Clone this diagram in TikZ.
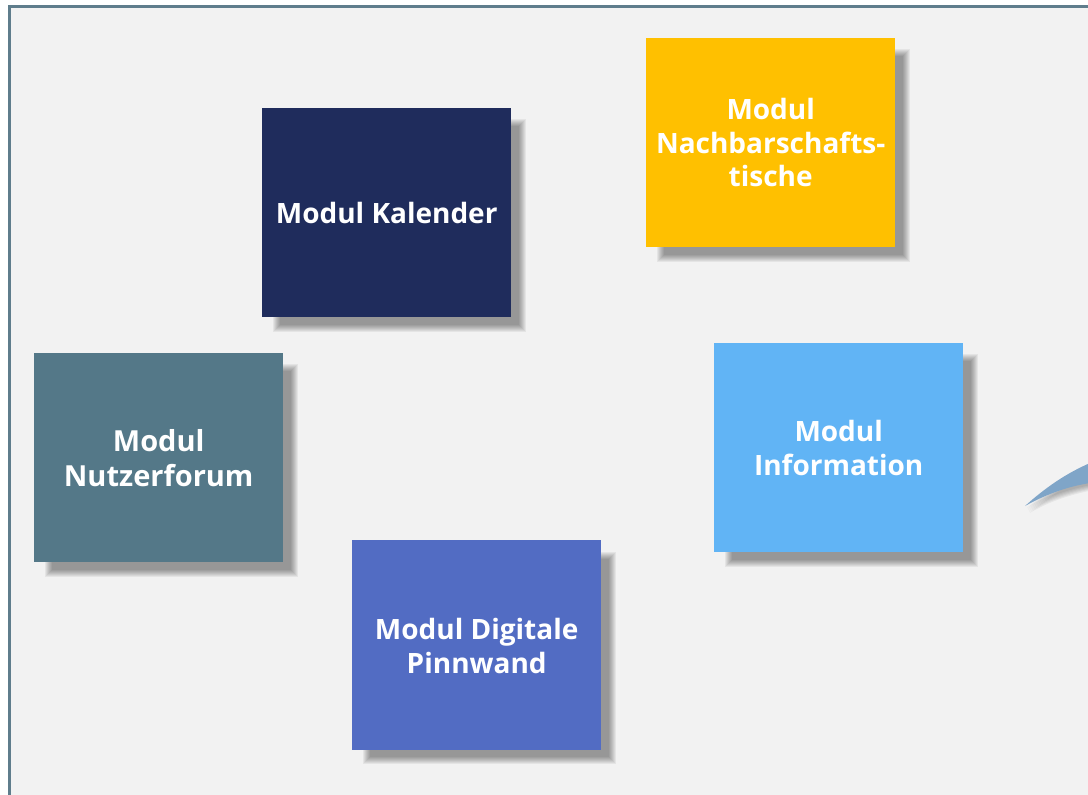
\documentclass[tikz,border=0pt]{standalone}
\usepackage{fontspec}
\setmainfont{Open Sans}
\definecolor{panelbg}{HTML}{F2F2F2}
\definecolor{panelline}{HTML}{5F7D8C}
\definecolor{cnavy}{HTML}{1F2C5C}
\definecolor{camber}{HTML}{FFC000}
\definecolor{csky}{HTML}{61B4F5}
\definecolor{cteal}{HTML}{547888}
\definecolor{cblue}{HTML}{526CC3}
\definecolor{carc}{HTML}{7FA5C8}
\tikzset{
  modulebox/.style={draw=none,minimum width=249pt,minimum height=209pt,inner sep=0pt,
    text=white,align=center,font=\fontsize{28}{33.5}\selectfont\bfseries},
  largetext/.style={font=\fontsize{29}{35}\selectfont\bfseries},
}
% soft shadow: stacked translucent rectangles, x y = top-left of the box
\newcommand{\softshadow}[2]{%
  \foreach \k in {0,...,7}{%
    \fill[black,opacity=0.056]
      ({#1+13-2+\k},{#2+13-2+\k}) rectangle ({#1+249+13+1.5-\k},{#2+209+13+1.5-\k});
  }%
}
\begin{document}
\begin{tikzpicture}[x=1pt,y=-1pt]
\useasboundingbox (0,0) rectangle (1088,795);
\fill[white] (0,0) rectangle (1088,795);
\fill[panelbg] (9,7) rectangle (1088,795);
\draw[panelline,line width=3pt] (9.3,795) -- (9.3,6.5) -- (1088,6.5);
% arc with its shadow
\begin{scope}
\clip (0,0) rectangle (1088,795);
\foreach \k in {0,...,5}{%
  \fill[black,opacity=0.05,shift={(1+0.5*\k,2+\k)}]
    (1026,506) .. controls (1045,490) and (1065,477) .. (1090,463)
    -- (1090,483) .. controls (1065,488) and (1045,495) .. cycle;
}
\fill[carc] (1025,506) .. controls (1045,488) and (1065,474) .. (1090,463)
  -- (1090,483) .. controls (1065,487) and (1045,495) .. cycle;
\end{scope}
% shadows
\softshadow{262}{108}
\softshadow{646}{38}
\softshadow{714}{343}
\softshadow{34}{353}
\softshadow{352}{540.5}
% modules
\fill[camber] (646,38) rectangle (895,39);
\node[modulebox,minimum height=208.5pt,fill=camber,anchor=north west] (nachbar) at (646,38.5) {Modul\\Nachbarschafts-\\tische};
\fill[csky] (714,343) rectangle (963,344);
\node[modulebox,minimum height=208.5pt,fill=csky,anchor=north west] (info) at (714,343.5) {Modul\\Information};
\node[modulebox,fill=cnavy,anchor=north west] (kalender) at (262,108) {Modul Kalender};
\node[modulebox,largetext,fill=cteal,anchor=north west] (forum) at (34,353) {Modul\\Nutzerforum};
\fill[cblue] (352,540) rectangle (601,542);
\node[modulebox,minimum height=208.5pt,fill=cblue,anchor=north west] (pinnwand) at (352,541.5) {Modul Digitale\\Pinnwand};
\end{tikzpicture}
\end{document}
